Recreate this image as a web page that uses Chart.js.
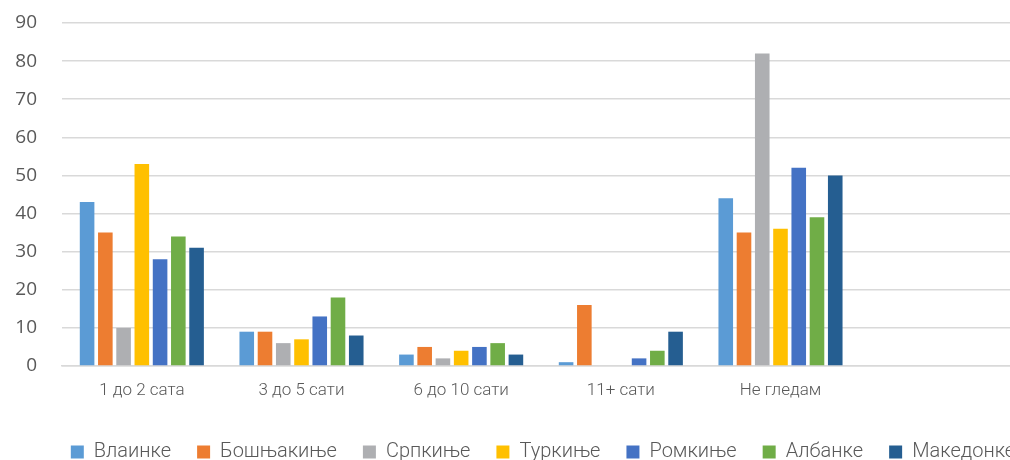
<!DOCTYPE html>
<html>
<head>
<meta charset="utf-8">
<script src="https://cdn.jsdelivr.net/npm/chart.js@4.4.1/dist/chart.umd.min.js"></script>
<style>
  html, body { margin: 0; padding: 0; background: #fff; overflow: hidden; }
  #wrap { position: relative; width: 1080px; height: 472px; }
</style>
</head>
<body>
<div id="wrap"><canvas id="myBarChart"></canvas></div>
<script>
const categories = ['1 до 2 сата', '3 до 5 сати', '6 до 10 сати', '11+ сати', 'Не гледам', ''];
const seriesNames = ['Влаинке', 'Бошњакиње', 'Српкиње', 'Туркиње', 'Ромкиње', 'Албанке', 'Македонке'];
const vlainke     = [43, 9, 3, 1, 44, null];
const bosnjakinje = [35, 9, 5, 16, 35, null];
const srpkinje    = [10, 6, 2, 0, 82, null];
const turkinje    = [53, 7, 4, 0, 36, null];
const romkinje    = [28, 13, 5, 2, 52, null];
const albanke     = [34, 18, 6, 4, 39, null];
const makedonke   = [31, 8, 3, 9, 50, null];
const yTicks = [0, 10, 20, 30, 40, 50, 60, 70, 80, 90];

const colors = ['#5B9BD5', '#ED7D31', '#AEAFB2', '#FFC000', '#4472C4', '#70AD47', '#255E91'];
const seriesValues = [vlainke, bosnjakinje, srpkinje, turkinje, romkinje, albanke, makedonke];

// setup
const data = {
  labels: categories,
  datasets: seriesNames.map((name, i) => ({
    label: name,
    data: seriesValues[i],
    backgroundColor: colors[i],
    borderWidth: 0,
    barPercentage: 0.8,
    categoryPercentage: 0.8
  }))
};

// fixed legend height, and legend sits a bit right of the canvas centre
const legendTweak = {
  id: 'legendTweak',
  beforeInit(chart) {
    const origFit = chart.legend.fit;
    chart.legend.fit = function () {
      origFit.call(this);
      this.height = 56;
    };
  },
  afterLayout(chart) {
    chart.legend.left += 33;
    chart.legend.right += 33;
  }
};

// config
const config = {
  type: 'bar',
  data,
  plugins: [legendTweak],
  options: {
    responsive: true,
    maintainAspectRatio: false,
    animation: false,
    layout: { padding: { left: 0, right: 60, top: 23, bottom: 0 } },
    plugins: {
      tooltip: { enabled: false },
      legend: {
        position: 'bottom',
        labels: {
          boxWidth: 13,
          boxHeight: 13,
          padding: 26,
          color: '#595959',
          font: { family: 'Roboto', size: 20, weight: 300 }
        }
      }
    },
    scales: {
      x: {
        grid: { display: false, drawTicks: false },
        border: { color: '#D9D9D9', width: 1.5 },
        afterFit: axis => { axis.height = 50; },
        ticks: {
          color: '#595959',
          padding: 15,
          font: { family: 'Roboto', size: 17, weight: 300 }
        }
      },
      y: {
        min: 0,
        max: 90,
        afterBuildTicks: axis => { axis.ticks = yTicks.map(v => ({ value: v })); },
        afterFit: axis => {
          axis.width = 62;
          axis.paddingTop = 0;
          axis.paddingBottom = 0;
        },
        grid: { color: '#D9D9D9', lineWidth: 1.5, drawTicks: false },
        border: { display: false },
        ticks: {
          color: '#595959',
          padding: 25,
          font: { family: 'Open Sans', size: 19 }
        }
      }
    }
  }
};

// render init block
const myBarChart = new Chart(document.getElementById('myBarChart'), config);
</script>
</body>
</html>
